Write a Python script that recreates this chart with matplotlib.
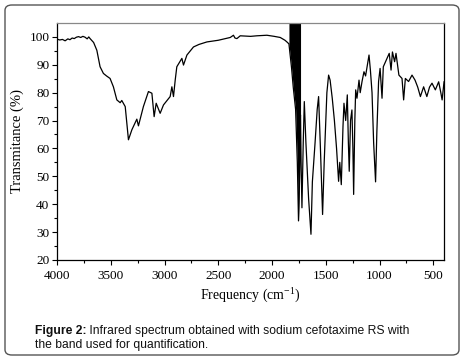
import numpy as np
import matplotlib
matplotlib.use('Agg')
import matplotlib.pyplot as plt
from matplotlib.patches import FancyBboxPatch

plt.rcParams['mathtext.fontset'] = 'custom'
plt.rcParams['mathtext.rm'] = 'Liberation Serif'

# O-H / C-H region (cm-1, %T)
wn_high = [4000, 3975, 3950, 3925, 3900, 3880, 3860, 3840, 3820, 3800, 3780, 3760,
           3740, 3720, 3705, 3693, 3660, 3630, 3600, 3569, 3540, 3507, 3476, 3444,
           3413, 3398, 3366, 3336, 3304, 3258, 3243, 3197, 3150, 3118, 3097, 3078,
           3041, 3010, 2948, 2932, 2917, 2901, 2886, 2839, 2824, 2792, 2731, 2680,
           2606, 2500, 2389, 2359, 2345, 2327, 2296, 2200, 2141, 2048, 1980, 1924,
           1880, 1862]
t_high = [99.2, 98.9, 99.1, 98.6, 99.3, 99.0, 99.6, 99.4, 99.9, 100.1, 99.8, 100.2,
          99.9, 99.3, 100.0, 99.4, 98.0, 95.2, 89.3, 86.9, 86.0, 85.1, 82.1, 77.4,
          76.4, 77.2, 75.0, 63.1, 66.7, 70.5, 68.1, 75.0, 80.4, 79.8, 71.4, 76.2,
          72.6, 75.6, 78.6, 82.1, 78.6, 84.5, 89.3, 92.3, 89.9, 93.5, 96.4, 97.3,
          98.2, 98.8, 99.8, 100.6, 99.6, 99.4, 100.4, 100.2, 100.4, 100.6, 100.2, 99.8,
          98.8, 98.2]

# carbonyl band + fingerprint region
wn_low = [1843, 1819, 1803, 1781, 1765, 1754, 1745, 1735, 1730, 1722, 1710, 1700,
          1685, 1660, 1638, 1625, 1614, 1600, 1580, 1567, 1550, 1530, 1515, 1490,
          1474, 1460, 1440, 1420, 1400, 1381, 1370, 1356, 1340, 1331, 1315, 1300,
          1290, 1282, 1270, 1257, 1248, 1241, 1230, 1222, 1210, 1191, 1180, 1163,
          1145, 1130, 1098, 1085, 1070, 1055, 1037, 1025, 1009, 995, 977, 965,
          930, 910, 893, 880, 860, 847, 820, 791, 776, 760, 730, 698,
          670, 645, 620, 590, 560, 535, 512, 481, 450, 430, 418, 400]
t_low = [97.5, 89.0, 82.0, 74.0, 55.0, 34.0, 48.0, 72.0, 55.0, 38.7, 62.0, 76.8,
         62.0, 42.0, 29.2, 48.0, 54.2, 62.0, 74.0, 78.6, 60.0, 36.3, 55.0, 80.0,
         86.3, 84.5, 78.0, 70.0, 60.0, 48.2, 55.0, 47.0, 68.0, 76.2, 70.0, 79.2,
         62.0, 51.8, 70.0, 73.8, 60.0, 43.5, 70.0, 81.0, 78.0, 84.5, 80.0, 84.0,
         87.5, 86.0, 93.5, 88.0, 80.0, 62.0, 48.0, 66.0, 84.0, 88.7, 78.0, 89.3,
         92.3, 94.1, 88.1, 94.6, 91.1, 94.1, 86.3, 85.1, 77.4, 85.1, 84.0, 86.3,
         84.5, 82.0, 78.6, 82.1, 78.6, 82.0, 83.4, 81.0, 83.9, 80.0, 77.4, 83.9]

# band used for quantification
band = (1735, 1843)

xticks = [4000, 3500, 3000, 2500, 2000, 1500, 1000, 500]
yticks = [20, 30, 40, 50, 60, 70, 80, 90, 100]

assert len(wn_high) == len(t_high) and len(wn_low) == len(t_low)
wn = np.array(wn_high + wn_low, dtype=float)
t = np.array(t_high + t_low, dtype=float)

fig = plt.figure(figsize=(4.64, 3.59), dpi=100)
ax = fig.add_axes([0.123, 0.276, 0.834, 0.66])

ax.plot(wn, t, color='black', lw=0.9)
inband = (wn >= band[0]) & (wn <= band[1])
ax.fill_between(wn, t, 105, where=inband, color='black', lw=0)

ax.set_xlim(4000, 400)
ax.set_ylim(20, 105)
ax.set_xticks(xticks)
ax.set_xticks([3750, 3250, 2750, 2250, 1750, 1250, 750], minor=True)
ax.set_yticks(yticks)
ax.set_yticks([25, 35, 45, 55, 65, 75, 85, 95], minor=True)

serif = 'Liberation Serif'
for lab in ax.get_xticklabels() + ax.get_yticklabels():
    lab.set_fontfamily(serif)
    lab.set_fontsize(9.5)
ax.tick_params(which='major', direction='out', length=3.5, width=0.8, pad=2)
ax.tick_params(axis='x', which='major', pad=4)
ax.tick_params(which='minor', direction='out', length=2, width=0.8)
for s in ax.spines.values():
    s.set_linewidth(0.9)
ax.spines['top'].set_color('#888888')

ax.set_xlabel(r'Frequency (cm$^{\mathregular{-1}}$)', fontfamily=serif, fontsize=10, labelpad=2)
ax.set_ylabel('Transmitance (%)', fontfamily=serif, fontsize=10.5, labelpad=4)

# caption
t1 = fig.text(35 / 464, 1 - 334 / 359, 'Figure 2:', fontfamily='Liberation Sans',
              fontsize=8.7, fontweight='bold', color='#111111', va='baseline')
ax.annotate(' Infrared spectrum obtained with sodium cefotaxime RS with', xy=(1, 0),
            xycoords=t1, va='bottom', fontfamily='Liberation Sans', fontsize=8.7,
            color='#111111', annotation_clip=False)
fig.text(35 / 464, 1 - 348 / 359, 'the band used for quantification.',
         fontfamily='Liberation Sans', fontsize=8.7, color='#111111', va='baseline')

# rounded frame
frame = FancyBboxPatch((5 / 464, 4 / 359), 454 / 464, 350 / 359,
                       boxstyle='round,pad=0,rounding_size=0.015',
                       transform=fig.transFigure, fill=False,
                       edgecolor='#555555', lw=1.0)
fig.patches.append(frame)

fig.savefig('out.png', dpi=100)
